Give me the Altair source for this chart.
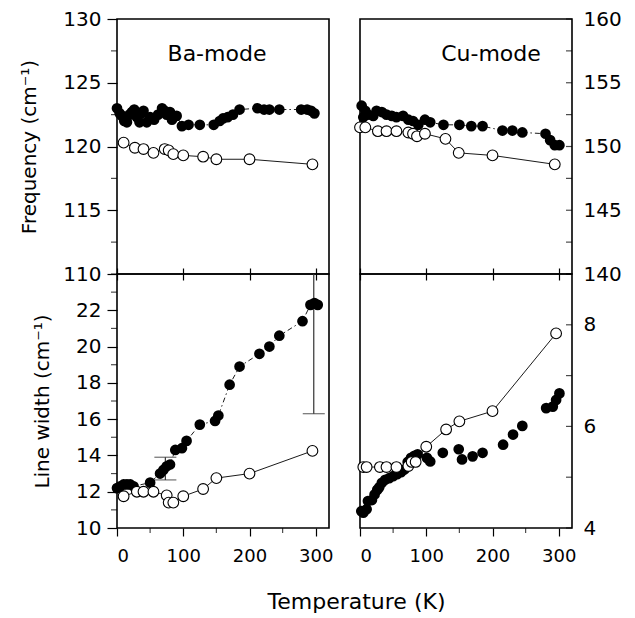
import altair as alt
import pandas as pd

FONT = "DejaVu Sans"

# ---------------- data ----------------
# Ba-mode frequency (cm^-1)
ba_freq_filled_T = [0, 4, 7.5, 11, 15, 19, 22.5, 26, 30, 34, 37, 40, 45, 50, 56, 62, 68, 72, 75, 80, 83, 90,
                    98, 108, 125, 146, 155, 160, 167, 175, 185, 212, 222, 230, 245, 278, 287, 293, 298]
ba_freq_filled = [123.0, 122.6, 122.4, 122.0, 121.9, 122.5, 122.7, 122.9, 122.3, 121.9, 122.6, 122.8, 121.9,
                  122.3, 122.1, 122.5, 123.0, 122.8, 122.5, 122.7, 122.1, 122.4,
                  121.6, 121.7, 121.7, 121.7, 122.0, 122.2, 122.3, 122.5, 122.9, 123.0, 122.9, 122.9, 122.9,
                  122.9, 122.9, 122.8, 122.6]
ba_freq_open_T = [10, 27, 40, 55, 72, 78, 85, 100, 130, 150, 200, 295]
ba_freq_open = [120.3, 119.9, 119.8, 119.5, 119.8, 119.7, 119.4, 119.3, 119.2, 119.0, 119.0, 118.6]

# Cu-mode frequency (cm^-1)
cu_freq_filled_T = [2.5, 5, 8, 12, 20, 25, 33, 40, 48, 55, 65, 73, 80, 88, 98, 106, 126, 150, 168, 185,
                    215, 230, 245, 280, 287, 294, 301]
cu_freq_filled = [153.2, 152.3, 152.8, 152.5, 152.4, 152.8, 152.7, 152.5, 152.4, 152.3, 152.4, 152.1, 152.0,
                  151.7, 152.1, 151.9, 151.7, 151.7, 151.6, 151.6, 151.25, 151.25, 151.1, 151.0, 150.5,
                  150.1, 150.1]
cu_freq_open_T = [0, 8, 27, 40, 55, 73, 80, 86, 98, 129, 149, 200, 294]
cu_freq_open = [151.5, 151.5, 151.2, 151.2, 151.2, 151.1, 151.0, 150.8, 151.0, 150.6, 149.5, 149.3, 148.6]

# Ba-mode line width (cm^-1)
ba_width_filled_T = [0, 5, 10, 15, 20, 25, 50, 65, 70, 75, 80, 88, 98, 105, 125, 148, 153, 170, 185, 215,
                     230, 245, 280, 292, 298, 303]
ba_width_filled = [12.2, 12.3, 12.4, 12.4, 12.4, 12.3, 12.5, 13.0, 13.2, 13.4, 13.5, 14.3, 14.4, 14.8, 15.7,
                   15.9, 16.2, 17.9, 18.9, 19.6, 20.0, 20.6, 21.4, 22.3, 22.4, 22.3]
ba_width_open_T = [10, 30, 40, 55, 75, 78, 85, 100, 130, 150, 200, 295]
ba_width_open = [11.75, 12.0, 12.0, 12.0, 11.8, 11.4, 11.4, 11.75, 12.15, 12.75, 13.0, 14.25]
# error bars (T, low, high)
ba_err_T = [73, 297]
ba_err_low = [12.65, 16.3]
ba_err_high = [13.9, 28.3]

# Cu-mode line width (cm^-1)
cu_width_filled_T = [2, 5, 10, 12, 18, 22, 26, 29, 33, 38, 44, 50, 56, 62, 67, 72, 77, 82, 87, 101, 106,
                     125, 149, 154, 170, 185, 216, 231, 245, 281, 291, 296, 301]
cu_width_filled = [4.33, 4.3, 4.37, 4.53, 4.55, 4.66, 4.75, 4.8, 4.89, 4.95, 4.98, 5.02, 5.06, 5.1, 5.15,
                   5.3, 5.38, 5.42, 5.45, 5.38, 5.31, 5.48, 5.55, 5.35, 5.41, 5.48, 5.64, 5.84, 6.01, 6.36,
                   6.39, 6.52, 6.65]
cu_width_open_T = [5, 10, 30, 40, 55, 73, 78, 84, 100, 130, 150, 200, 296]
cu_width_open = [5.2, 5.2, 5.2, 5.2, 5.2, 5.22, 5.3, 5.3, 5.6, 5.94, 6.1, 6.3, 7.83]

# axis tick values
x_domain = [0, 320]
x_major = [0, 100, 200, 300]
x_minor = [50, 150, 250]
x_all = [0, 50, 100, 150, 200, 250, 300]
ba_freq_major = [110, 115, 120, 125, 130]
ba_freq_minor = [112.5, 117.5, 122.5, 127.5]
cu_freq_labels = [140, 145, 150, 155, 160]
cu_freq_ticks = [140, 142.5, 145, 147.5, 150, 152.5, 155, 157.5, 160]
ba_width_major = [10, 12, 14, 16, 18, 20, 22]
ba_width_minor = [11, 13, 15, 17, 19, 21, 23, 24]
cu_width_labels = [4, 6, 8]
cu_width_ticks = [4, 5, 6, 7, 8, 9]

W, H_TOP, H_BOT = 212, 255, 254
SIZE = 115


def df(T, v):
    return pd.DataFrame({"T": T, "v": v})


def x_axis(labels):
    if labels:
        return alt.Axis(
            orient="bottom", values=x_major, title=None, domain=False, grid=False, labelOverlap=False,
            tickSize=8, tickColor="black", tickWidth=1.2,
            labelFont=FONT, labelFontSize=18, labelColor="black", labelPadding=11,
        )
    # shared border between upper and lower panels: ticks crossing the border
    return alt.Axis(
        orient="bottom", values=x_all, title=None, domain=False, grid=False, labels=False,
        tickSize=12, offset=-6, tickColor="black", tickWidth=1.2,
    )


def y_axis(values, orient, title):
    kw = dict(
        orient=orient, values=values, domain=False, grid=False, labelOverlap=False,
        labelFont=FONT, labelFontSize=20, labelColor="black",
    )
    if orient == "left":
        kw.update(tickSize=10, labelPadding=6, tickColor="black", tickWidth=1.2)
    else:
        kw.update(ticks=False, labelPadding=11)
    if title:
        kw.update(title=title, titleFont=FONT, titleFontSize=20, titleFontWeight="normal",
                  titleColor="black", titlePadding=23)
    else:
        kw.update(title=None)
    return alt.Axis(**kw)


def panel(filled, opened, ydom, yaxis, xaxis, height, filled_line=True, label=None, label_x=0,
          errors=None, inner_ticks=None, left_minor=None, bottom_minor=False):
    xs = alt.Scale(domain=x_domain, nice=False, zero=False)
    ys = alt.Scale(domain=ydom, nice=False, zero=False)
    base_f = alt.Chart(filled)
    base_o = alt.Chart(opened)
    layers = []
    if filled_line:
        layers.append(base_f.mark_line(color="black", strokeWidth=0.9, strokeDash=[5, 3, 1.5, 3]).encode(
            x=alt.X("T:Q", scale=xs, axis=xaxis), y=alt.Y("v:Q", scale=ys, axis=yaxis)))
    layers.append(base_o.mark_line(color="black", strokeWidth=0.9).encode(
        x=alt.X("T:Q", scale=xs, axis=xaxis), y=alt.Y("v:Q", scale=ys, axis=yaxis)))
    if inner_ticks is not None:
        # right-hand axis ticks point into the plot
        layers.append(alt.Chart(pd.DataFrame({"v": inner_ticks})).mark_tick(
            color="black", thickness=1.2, size=6, orient="horizontal").encode(
            x=alt.value(W - 3), y="v:Q"))
    if left_minor is not None:
        # short minor ticks outside the left axis
        layers.append(alt.Chart(pd.DataFrame({"v": left_minor})).mark_tick(
            color="black", thickness=1.2, size=6, orient="horizontal").encode(
            x=alt.value(-3), y="v:Q"))
    if bottom_minor:
        layers.append(alt.Chart(pd.DataFrame({"T": x_minor})).mark_tick(
            color="black", thickness=1.2, size=5, orient="vertical").encode(
            x="T:Q", y=alt.value(height + 2.5)))
    if errors is not None:
        eb = alt.Chart(errors)
        layers.append(eb.mark_rule(color="#333333", strokeWidth=1.2, clip=True).encode(
            x="T:Q", y="lo:Q", y2="hi:Q"))
        layers.append(eb.mark_tick(color="#333333", thickness=1.2, size=22, orient="horizontal").encode(
            x="T:Q", y="lo:Q"))
        layers.append(eb.transform_filter("datum.hi <= 24").mark_tick(
            color="#333333", thickness=1.2, size=22, orient="horizontal").encode(x="T:Q", y="hi:Q"))
    layers.append(base_f.mark_point(filled=True, color="black", size=SIZE, opacity=1).encode(
        x="T:Q", y="v:Q"))
    layers.append(base_o.mark_point(filled=True, fill="white", stroke="black", strokeWidth=1.1,
                                    size=SIZE, opacity=1).encode(x="T:Q", y="v:Q"))
    if label:
        layers.append(alt.Chart(pd.DataFrame({"t": [label]})).mark_text(
            font=FONT, fontSize=22, color="black", align="center", baseline="alphabetic").encode(
            text="t:N", x=alt.value(label_x), y=alt.value(42)))
    return alt.layer(*layers).properties(width=W, height=height)


tl = panel(df(ba_freq_filled_T, ba_freq_filled), df(ba_freq_open_T, ba_freq_open), [110, 130],
           y_axis(ba_freq_major, "left", "Frequency (cm⁻¹)"),
           x_axis(False), H_TOP, label="Ba-mode", label_x=100, left_minor=ba_freq_minor)

tr = panel(df(cu_freq_filled_T, cu_freq_filled), df(cu_freq_open_T, cu_freq_open), [140, 160],
           y_axis(cu_freq_labels, "right", None),
           x_axis(False), H_TOP, label="Cu-mode", label_x=131, inner_ticks=cu_freq_ticks)

err_df = pd.DataFrame({"T": ba_err_T, "lo": ba_err_low, "hi": ba_err_high})

bl = panel(df(ba_width_filled_T, ba_width_filled), df(ba_width_open_T, ba_width_open), [10, 24],
           y_axis(ba_width_major, "left", "Line width (cm⁻¹)"),
           x_axis(True), H_BOT, errors=err_df, left_minor=ba_width_minor, bottom_minor=True)

br = panel(df(cu_width_filled_T, cu_width_filled), df(cu_width_open_T, cu_width_open), [4, 9],
           y_axis(cu_width_labels, "right", None),
           x_axis(True), H_BOT, filled_line=False, inner_ticks=cu_width_ticks, bottom_minor=True)

chart = alt.concat(tl, tr, bl, br, columns=2, spacing={"row": 0, "column": 31}, bounds="flush").properties(
    title=alt.TitleParams("Temperature (K)", orient="bottom", anchor="middle", font=FONT, fontSize=22,
                          fontWeight="normal", color="black", offset=26, dx=36),
    padding={"left": 11, "top": 0, "right": 5, "bottom": 5},
).configure(background="white").configure_view(stroke="black", strokeWidth=1.6)

chart.save("out.html", embed_options={"renderer": "svg", "actions": False})
